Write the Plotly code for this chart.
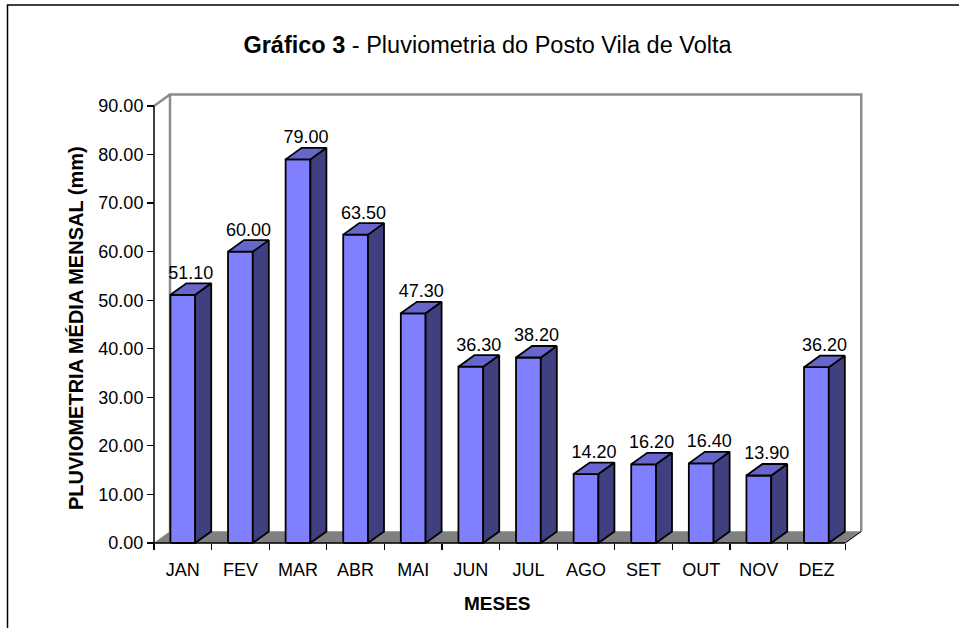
import plotly.graph_objects as go

# ---- data ----
months = ["JAN", "FEV", "MAR", "ABR", "MAI", "JUN", "JUL", "AGO", "SET", "OUT", "NOV", "DEZ"]
values = [51.10, 60.00, 79.00, 63.50, 47.30, 36.30, 38.20, 14.20, 16.20, 16.40, 13.90, 36.20]
y_ticks = [0, 10, 20, 30, 40, 50, 60, 70, 80, 90]

# ---- style / geometry ----
FONT = "Liberation Sans, Arial, sans-serif"
W, H = 959, 628
L, R, T, B = 150, 864, 92, 546          # plot area in pixels
X_RANGE = [-0.5694, 11.826]
Y_RANGE = [-0.618, 92.87]
HALF_W = 0.215                          # half width of bar front face (category units)
DX, DY = 0.278, 2.37                    # 3D depth offset (x units, y units)
FRONT, SIDE, TOP = "#8080FF", "#404080", "#6666CC"
FLOOR, WALL = "#808080", "#8C8C8C"
Y_MAX = max(y_ticks)
n = len(months)


def px_x(p):
    return (p - L) / (R - L)


def px_y(p):
    return (B - p) / (B - T)


def polys(kind):
    xs, ys = [], []
    for i, v in enumerate(values):
        a, b = i - HALF_W, i + HALF_W
        if kind == "front":
            px, py = [a, b, b, a, a], [0, 0, v, v, 0]
        elif kind == "side":
            px, py = [b, b + DX, b + DX, b, b], [0, DY, v + DY, v, 0]
        else:
            px, py = [a, b, b + DX, a + DX, a], [v, v, v + DY, v + DY, v]
        xs += px + [None]
        ys += py + [None]
    return xs, ys


fig = go.Figure()

# floor
x0, x1 = -0.5, n - 0.5
fig.add_trace(go.Scatter(
    x=[x0, x1, x1 + DX, x0 + DX, x0], y=[0, 0, DY, DY, 0],
    fill="toself", fillcolor=FLOOR, mode="lines", line=dict(color=FLOOR, width=0.5),
    hoverinfo="skip", showlegend=False))

# back wall outline (left diagonal, left edge, top edge, right edge)
fig.add_trace(go.Scatter(
    x=[x0, x0 + DX, None, x0 + DX, x0 + DX, x1 + DX, x1 + DX],
    y=[Y_MAX, Y_MAX + DY, None, DY, Y_MAX + DY, Y_MAX + DY, DY],
    mode="lines", line=dict(color=WALL, width=2.5), hoverinfo="skip", showlegend=False))
# bottom-right floor diagonal
fig.add_trace(go.Scatter(
    x=[x1, x1 + DX], y=[0, DY], mode="lines", line=dict(color="#000000", width=1),
    hoverinfo="skip", showlegend=False))

# bars
for kind, col in (("front", FRONT), ("side", SIDE), ("top", TOP)):
    xs, ys = polys(kind)
    fig.add_trace(go.Scatter(
        x=xs, y=ys, fill="toself", fillcolor=col, mode="lines",
        line=dict(color="#000000", width=1.8), hoverinfo="skip", showlegend=False))

# axis lines
fig.add_trace(go.Scatter(x=[x0, x0], y=[0, Y_MAX], mode="lines",
                         line=dict(color="#000000", width=1.5), hoverinfo="skip", showlegend=False))
fig.add_trace(go.Scatter(x=[x0, x1], y=[0, 0], mode="lines",
                         line=dict(color="#000000", width=1.5), hoverinfo="skip", showlegend=False))

# data labels
fig.add_trace(go.Scatter(
    x=[i + DX / 2 for i in range(n)], y=[v + DY for v in values],
    mode="text", text=[f"{v:.2f}" for v in values], textposition="top center",
    textfont=dict(family=FONT, size=18, color="#000000"),
    hoverinfo="skip", showlegend=False, cliponaxis=False))

fig.update_layout(
    width=W, height=H,
    margin=dict(l=L, r=W - R, t=T, b=H - B, pad=0),
    paper_bgcolor="#FFFFFF", plot_bgcolor="rgba(0,0,0,0)",
    font=dict(family=FONT, color="#000000"),
    title=dict(text="<b>Gráfico 3</b> - Pluviometria do Posto Vila de Volta",
               font=dict(family=FONT, size=23.5, color="#000000"),
               x=487.5 / W, xanchor="center", xref="container",
               y=1 - 45 / H, yanchor="middle", yref="container"),
    xaxis=dict(range=X_RANGE, anchor="free", position=px_y(543),
               tickmode="array", tickvals=list(range(n)), ticktext=months,
               ticks="", showgrid=False, zeroline=False, showline=False,
               ticklabelstandoff=14,
               tickfont=dict(family=FONT, size=18, color="#000000"),
               minor=dict(tick0=-0.5, dtick=1, ticks="outside", ticklen=6,
                          tickcolor="#000000", tickwidth=1.2, showgrid=False)),
    yaxis=dict(range=Y_RANGE, anchor="free", position=px_x(154),
               tickmode="array", tickvals=y_ticks, tickformat=".2f",
               ticks="outside", ticklen=7, tickcolor="#000000", tickwidth=1.2,
               showgrid=False, zeroline=False, showline=False,
               tickfont=dict(family=FONT, size=18, color="#000000")),
    annotations=[
        dict(text="<b>PLUVIOMETRIA MÉDIA MENSAL (mm)</b>", textangle=-90,
             xref="paper", yref="paper", x=px_x(76), y=px_y(328),
             xanchor="center", yanchor="middle", showarrow=False,
             font=dict(family=FONT, size=20, color="#000000")),
        dict(text="<b>MESES</b>", xref="paper", yref="paper",
             x=px_x(497.5), y=px_y(603), xanchor="center", yanchor="middle",
             showarrow=False, font=dict(family=FONT, size=19, color="#000000")),
    ],
    shapes=[dict(type="rect", xref="paper", yref="paper",
                 x0=px_x(7.5), x1=px_x(1010), y0=px_y(700), y1=px_y(5),
                 line=dict(color="#000000", width=1.5), fillcolor="rgba(0,0,0,0)")],
)

fig.write_html("out.html",
               config={"displayModeBar": False, "staticPlot": True},
               post_script="document.body.style.margin='0';document.body.style.overflow='hidden';")
